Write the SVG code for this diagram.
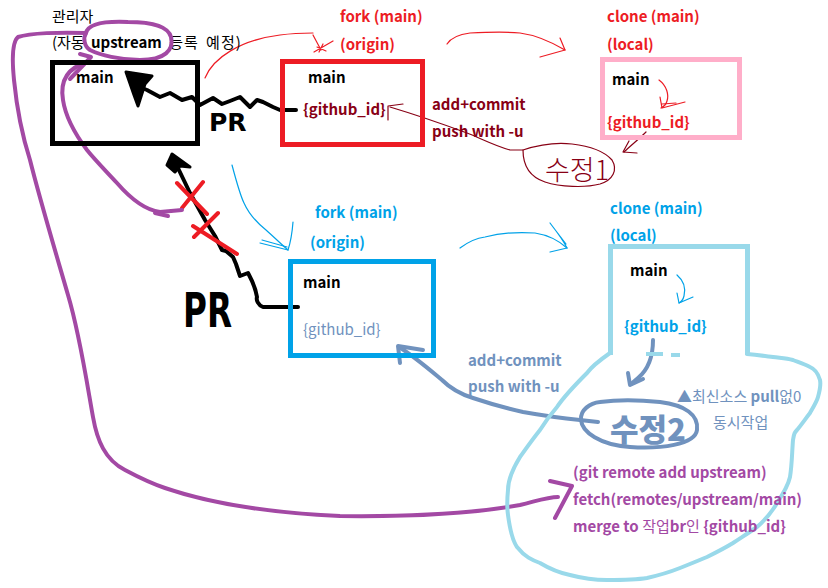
<svg xmlns="http://www.w3.org/2000/svg" width="828" height="588" viewBox="0 0 828 588">
<style>
  text { font-family: "Noto Sans CJK KR", "Noto Sans", sans-serif; font-size: 15px; font-weight: bold; }
  .ko { font-weight: normal; }
  .blk { fill: #000000; }
  .red { fill: #ED1C24; }
  .dred { fill: #880015; }
  .blue { fill: #00A2E8; }
  .steel { fill: #7092BE; }
  .purp { fill: #A349A4; }
  .hand { font-family: "DejaVu Sans", sans-serif; font-weight: 900; }
  .pr1 { font-size: 25px; }
  .pr2 { font-size: 48px; }
  .fix1 { font-size: 27px; font-weight: 200; }
  .fix2 { font-size: 31px; font-weight: 900; }
  .box { fill: none; stroke-width: 5; }
  .thin { fill: none; stroke-width: 1.2; stroke-linecap: round; stroke-linejoin: round; }
  .thick { fill: none; stroke-width: 4; stroke-linecap: round; stroke-linejoin: round; }
</style>

<g id="connectors">
  <!-- admin -> fork(red) thin red arrow -->
  <path class="thin" stroke="#ED1C24" d="M205,78 C213,58 240,40 280,35 C295,33 305,33 313,33"/>
  <path class="thin" stroke="#ED1C24" d="M313,35 L321,50 M314,52 L333,41 M317,47 L326,51 M319,52 L323,44"/>
  <!-- fork(red) -> clone(pink) thin red arrow -->
  <path class="thin" stroke="#ED1C24" d="M447,44 C452,36 462,34 470,33 C490,32 510,32 520,33 C535,35 548,40 565,50"/>
  <path class="thin" stroke="#ED1C24" d="M540,57 L565,50 L560,38"/>
  <!-- red arrow inside pink box -->
  <path class="thin" stroke="#ED1C24" d="M659,80 C667,86 669,95 667,101 C666,105 663,107 661,108"/>
  <path class="thin" stroke="#ED1C24" d="M660,97 L662,108 L685,102 M662,104 L676,103"/>
  <!-- pink github_id -> 수정1 (dark red) -->
  <path class="thin" stroke="#880015" d="M646,132 C638,140 630,146 624,152"/>
  <path class="thin" stroke="#880015" d="M629,141 L623,152 L637,153"/>
  <!-- 수정1 -> red github_id (dark red) -->
  <path class="thin" stroke="#880015" d="M523,150 L510,150 C495,146 480,138 467,133 C440,123 410,113 390,107"/>
  <path class="thin" stroke="#880015" d="M388,106 L388,120 M388,106 L403,104"/>
  <!-- blue thin arrow admin -> fork(blue) -->
  <path class="thin" stroke="#00A2E8" d="M232,165 C236,180 240,195 244,203 C248,212 256,222 266,230 C275,238 282,245 288,250"/>
  <path class="thin" stroke="#00A2E8" d="M293,222 C292,235 290,244 288,250 L260,243 M262,240 L287,247"/>
  <!-- blue thin arrow fork(blue) -> clone(blue) -->
  <path class="thin" stroke="#00A2E8" d="M460,248 C468,242 477,238 485,237 C500,233 520,232 535,233 C548,235 558,240 567,248"/>
  <path class="thin" stroke="#00A2E8" d="M550,223 C557,232 563,240 567,248 L550,252 M553,227 L566,244"/>
  <!-- blue small arrow in light-blue box -->
  <path class="thin" stroke="#00A2E8" d="M677,275 C684,281 686,288 684,296 C683,300 681,302 679,303"/>
  <path class="thin" stroke="#00A2E8" d="M677,293 L679,303 L693,297"/>
  <!-- steel blue: clone github_id -> 수정2 -->
  <path class="thick" stroke="#7092BE" d="M653,340 C653,355 650,368 638,378 L631,384"/>
  <path class="thick" stroke="#7092BE" d="M628,373 L630,385 L643,379"/>
  <!-- steel blue: 수정2 -> fork(blue) github_id -->
  <path class="thick" stroke="#7092BE" d="M598,422 L580,420 C560,418 540,415 523,412 C500,407 485,402 473,398 C460,394 450,388 442,380 C430,370 415,357 399,347"/>
  <path class="thick" stroke="#7092BE" d="M400,363 L398,346 L423,350"/>
  <!-- black PR (top) -->
  <path fill="#000000" stroke="#000000" stroke-width="3" stroke-linejoin="round" d="M126,72 L152,76 L145,84 L138,106 L134,95 Z"/>
  <path class="thick" stroke="#000000" stroke-width="4.5" d="M142,88 L147,90 L160,97 L170,93 L182,100 L192,97 L200,105 L213,98 L222,104 L230,101 L240,97 L250,107 L257,100 L263,102 L273,107 L280,110 L296,110"/>
  <!-- black PR (bottom) with X marks -->
  <path class="thick" stroke="#000000" stroke-width="4.5" d="M298,307 L263,307 C258,305 256,300 257,297 C255,285 250,277 248,273 L240,276 L236,264 L233,257 L226,251 L222,250 L215,236 L205,220 L190,193 L177,166"/>
  <path fill="#000000" stroke="#000000" stroke-width="3" stroke-linejoin="round" d="M172,154 L167,165 L175,172 L180,166 L190,167 Z"/>
  <path class="thick" stroke="#ED1C24" stroke-width="3.5" d="M177,183 L207,214 M203,182 L182,208 M218,213 L194,237 M193,226 L237,254"/>
  <!-- purple: big curve from upstream to bottom -->
  <path class="thick" stroke="#A349A4" d="M86,33 C60,32 30,33 18,37 C12,42 12,60 14,80 C17,110 22,135 30,160 C40,200 55,250 68,295 C80,335 88,390 93,417 C97,440 105,460 125,470 C140,478 150,483 165,488 C200,500 250,512 340,516 C420,517 480,512 520,505 C540,500 548,497 558,497"/>
  <path class="thick" stroke="#A349A4" d="M550,481 L572,486 L555,518"/>
  <!-- purple: inner curve from PR to upstream -->
  <path class="thick" stroke="#A349A4" d="M182,210 L160,212 C145,210 130,198 117,183 C105,170 95,160 87,150 C78,138 66,120 63,100 C60,82 66,68 88,62"/>
  <path class="thick" stroke="#A349A4" d="M80,54 L91,57 L70,79 M155,213 L168,216"/>
</g>

<g id="admin">
  <text class="blk ko" x="52" y="22">관리자</text>
  <text class="blk" x="52" y="48" word-spacing="3"><tspan class="ko">(자동 </tspan>upstream<tspan class="ko" letter-spacing="1"> 등록 예정)</tspan></text>
  <path class="thick" stroke="#A349A4" d="M86,33 C88,24 105,21 128,22 C150,22 168,26 171,37 C174,50 165,60 140,60 C120,60 100,55 90,50 C84,46 83,38 86,33"/>
  <rect class="box" stroke="#000000" x="52.5" y="62.5" width="145" height="81"/>
  <text class="blk" x="76" y="83">main</text>
  <text class="blk hand pr1" x="209" y="131">PR</text>
  <text class="blk hand pr2" x="183" y="327" textLength="49" lengthAdjust="spacingAndGlyphs">PR</text>
</g>

<g id="fork-origin-red">
  <text class="red" x="340" y="22">fork (main)</text>
  <text class="red" x="340" y="50">(origin)</text>
  <rect class="box" stroke="#ED1C24" x="282.5" y="61.5" width="140" height="83"/>
  <text class="blk" x="308" y="83">main</text>
  <text class="dred" x="303" y="115">{github_id}</text>
  <text class="dred" x="432" y="110">add+commit</text>
  <text class="dred" x="432" y="137">push with -u</text>
</g>

<g id="clone-local-pink">
  <text class="red" x="607" y="22">clone (main)</text>
  <text class="red" x="607" y="50">(local)</text>
  <rect class="box" stroke="#FFAEC9" x="602.5" y="59.5" width="137" height="78"/>
  <text class="blk" x="612" y="85">main</text>
  <text class="red" x="607" y="128">{github_id}</text>
</g>

<g id="fix1">
  <path class="thin" stroke="#880015" d="M523,150 C538,145 555,142 572,144 C590,146 603,150 612,160 C618,170 613,180 600,184 C585,188 560,187 545,182 C530,177 523,165 523,150"/>
  <text class="fix1" x="545" y="180" fill="#880015">수정1</text>
</g>

<g id="fork-origin-blue">
  <text class="blue" x="315" y="218">fork (main)</text>
  <text class="blue" x="310" y="248">(origin)</text>
  <rect class="box" stroke="#00A2E8" x="290.5" y="261.5" width="143" height="94"/>
  <text class="blk" x="303" y="288">main</text>
  <text class="steel ko" x="303" y="335">{github_id}</text>
</g>

<g id="clone-local-blue">
  <text class="blue" x="610" y="214">clone (main)</text>
  <text class="blue" x="610" y="241">(local)</text>
  <path class="box" stroke="#99D9EA" d="M610.5,355 V246.5 H747.5 V355"/>
  <path stroke="#99D9EA" stroke-width="4" d="M646,354 H663 M671,355 H680"/>
  <text class="blk" x="630" y="276">main</text>
  <text class="blue" x="624" y="332">{github_id}</text>
</g>

<g id="workspace">
  <path class="thick" stroke="#99D9EA" d="M610,353 C600,360 592,366 587,373 C575,385 565,395 557,407 C550,415 545,422 540,430 C532,440 525,450 520,457 C512,470 508,480 508,490 C507,500 507,508 508,515 C510,530 512,540 517,547 C525,557 532,560 540,563 C550,569 560,573 570,575 C585,579 595,580 607,580 C620,580 635,580 647,578 C660,575 670,572 680,568 C690,564 700,560 707,557 C717,552 725,548 733,543 C742,537 750,532 757,527 C765,520 772,512 777,503 C783,494 788,486 790,477 C792,465 792,452 793,440 C794,433 795,432 797,430 C802,424 806,418 810,413 C814,406 817,401 818,397 C820,390 821,385 820,380 C818,373 815,369 810,367 C804,364 798,362 793,360 C786,358 780,358 773,357 C765,356 758,355 747,354"/>
  <path class="thick" stroke="#7092BE" d="M600,402 C590,403 580,410 581,420 C582,432 600,445 630,447 C660,449 695,445 697,430 C699,415 685,405 660,402 C640,400 615,400 600,402"/>
  <text class="fix2" x="610" y="441" fill="#7092BE">수정2</text>
  <text class="steel" x="468" y="366">add+commit</text>
  <text class="steel" x="468" y="392">push with -u</text>
  <text class="steel" x="677" y="402">▲<tspan class="ko">최신소스 </tspan>pull<tspan class="ko">없0</tspan></text>
  <text class="steel ko" x="713" y="428">동시작업</text>
  <text class="purp" x="573" y="478">(git remote add upstream)</text>
  <text class="purp" x="573" y="505">fetch(remotes/upstream/main)</text>
  <text class="purp" x="573" y="532">merge to <tspan class="ko">작업</tspan>br<tspan class="ko">인</tspan> {github_id}</text>
</g>
</svg>
